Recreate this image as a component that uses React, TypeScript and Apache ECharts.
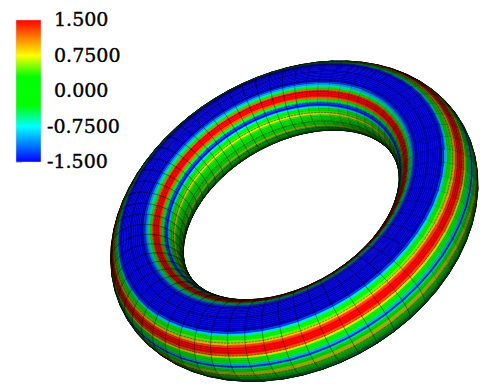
import React, { useEffect, useRef } from "react";
import * as echarts from "echarts";

const tickLabels: Record<string, string> = { "1.5": "1.500", "0.75": "0.7500", "0": "0.000", "-0.75": "-0.7500", "-1.5": "-1.500" };
const colorValues = [-1.5, -0.75, -0.3, 0.3, 0.75, 1.5];
const colorRGB = [[0, 0, 255], [0, 255, 255], [0, 255, 0], [0, 255, 0], [255, 255, 0], [255, 0, 0]];

// field value read around the tube, one per 3 degrees starting at -90 degrees
const fieldStart = -90;
const fieldValues = [
  0.05, 0.05, 0.05, 0.05, 0.05, 0.05, 0.05, 0.05, 0.05, 0.05, 0.05, 0.05, 0.05, 0.0, 0.0, 0.0, 0.0, 0.0, 0.0, 0.0,
  -0.2, -0.35, -0.5, -0.55, -0.55, -0.4, -0.2, 0.0, 0.1, 0.3,
  0.6, 0.85, 0.6, 0.3, -0.1, -0.6, -1.3, -0.9, -0.4,
  -0.1, 0.3, 0.8, 1.2, 1.5, 1.5, 1.5, 1.3, 0.9, 0.5, 0.1,
  -0.3, -0.8, -1.3, -1.5, -1.5, -1.5, -1.5, -1.5, -1.5, -1.5, -1.5, -1.5, -1.5, -1.5, -1.5, -1.5, -1.5,
  -1.3, -0.95, -0.6, 0.3, 1.2, 1.5, 1.5, 1.5, 1.2, 0.3,
  -0.5, -1.3, -1.45, -0.8, -0.2, 0.15, 0.5, 0.75, 0.4, 0.15,
  0.0, -0.1, -0.2, -0.1, 0.1, 0.4, 0.7, 0.4, 0.1, 0.0,
  0.0, 0.0, 0.0, 0.0, 0.0, 0.0, 0.0, 0.0, 0.0, 0.0, 0.0, 0.0, 0.0, 0.0, 0.0, 0.0, 0.0, 0.0, 0.0, 0.0, 0.0, 0.0, 0.0,
];

const tube = { R: 155, r: 37, tilt: 46, roll: 30, cx: 287, cy: 208, dist: 1050, aroundCells: 64, ringEvery: 6, ringOffset: 0, bias: 5 };
const rad = Math.PI / 180;
const cellCount = fieldValues.length;
const stepTube = 360 / cellCount;

function point3(i: number, j: number) {
  const th = (i / tube.aroundCells) * 360 * rad + 0.05;
  const ph = (fieldStart + j * stepTube) * rad;
  const rr = tube.R + tube.r * Math.cos(ph);
  return [rr * Math.cos(th), rr * Math.sin(th), tube.r * Math.sin(ph)];
}
function toView(p: number[]) {
  const t = tube.tilt * rad;
  return { u: p[0], v: p[1] * Math.cos(t) + p[2] * Math.sin(t), w: -p[1] * Math.sin(t) + p[2] * Math.cos(t) };
}
function project(i: number, j: number) {
  const { u, v, w } = toView(point3(i, j));
  const f = tube.dist / (tube.dist - w);
  const a = tube.roll * rad;
  return [tube.cx + f * (u * Math.cos(a) - v * Math.sin(a)), tube.cy - f * (u * Math.sin(a) + v * Math.cos(a))];
}
function facing(i: number, j: number) {
  const th = ((i + 0.5) / tube.aroundCells) * 360 * rad + 0.05;
  const ph = (fieldStart + (j + 0.5) * stepTube) * rad;
  const n = [Math.cos(ph) * Math.cos(th), Math.cos(ph) * Math.sin(th), Math.sin(ph)];
  const p = point3(i + 0.5, j + 0.5);
  const t = tube.tilt * rad;
  const cam = [0, -tube.dist * Math.sin(t), tube.dist * Math.cos(t)];
  const d = [cam[0] - p[0], cam[1] - p[1], cam[2] - p[2]];
  const len = Math.hypot(d[0], d[1], d[2]);
  return (n[0] * d[0] + n[1] * d[1] + n[2] * d[2]) / len;
}
function colorOf(v: number) {
  let k = 0;
  while (k < colorValues.length - 2 && v > colorValues[k + 1]) k++;
  const s = Math.max(0, Math.min(1, (v - colorValues[k]) / (colorValues[k + 1] - colorValues[k])));
  return colorRGB[k].map((c, n) => c + (colorRGB[k + 1][n] - c) * s);
}
function shaded(v: number, ndv: number) {
  const l = Math.pow(Math.max(0, ndv), 0.9);
  const c = colorOf(v).map((x) => Math.round(x * l));
  if (v <= -1.45) c[2] = Math.round(200 * Math.min(1, Math.max(0, ndv) / 0.55));
  return `rgb(${c[0]},${c[1]},${c[2]})`;
}

// kind 0 = surface cell, 1 = line along the ring, 2 = line around the tube
const rows: { d: number; row: number[] }[] = [];
for (let i = 0; i < tube.aroundCells; i++) {
  for (let j = 0; j < cellCount; j++) {
    const ndv = facing(i, j);
    if (ndv < -0.02) continue;
    const depth = toView(point3(i + 0.5, j + 0.5)).w;
    rows.push({ d: depth, row: [0, i, j, fieldValues[j], ndv] });
    if ((j + tube.ringOffset) % tube.ringEvery === 0) rows.push({ d: depth + tube.bias, row: [1, i, j, 0, ndv] });
    rows.push({ d: depth + tube.bias, row: [2, i, j, 0, ndv] });
  }
}
rows.sort((a, b) => a.d - b.d);
const surfaceRows = rows.map((r) => r.row);

function renderSurface(_: any, api: any) {
  const kind = api.value(0), i = api.value(1), j = api.value(2);
  const at = (a: number, b: number) => api.coord(project(a, b));
  if (kind === 0) {
    const fill = shaded(api.value(3), api.value(4));
    return {
      type: "polygon",
      shape: { points: [at(i, j), at(i + 1, j), at(i + 1, j + 1), at(i, j + 1)] },
      style: { fill, stroke: fill, lineWidth: 0.6 },
      silent: true,
    };
  }
  const a = at(i, j);
  const b = kind === 1 ? at(i + 1, j) : at(i, j + 1);
  return {
    type: "line",
    shape: { x1: a[0], y1: a[1], x2: b[0], y2: b[1] },
    style: { stroke: "rgba(0,0,0,0.75)", lineWidth: 0.55, lineDash: [2.5, 0.8], fill: "none" },
    silent: true,
  };
}

const barStops = colorValues.map((v, k) => ({
  offset: (1.5 - v) / 3,
  color: `rgb(${colorRGB[k].join(",")})`,
})).reverse();

function renderBar(_: any, api: any) {
  const a = api.coord([0, 1.5]);
  const b = api.coord([1, -1.5]);
  return {
    type: "rect",
    shape: { x: a[0], y: a[1], width: b[0] - a[0], height: b[1] - a[1] },
    style: { fill: new echarts.graphic.LinearGradient(0, 0, 0, 1, barStops), stroke: "#cccccc", lineWidth: 0.5 },
  };
}

const labelStyle = { fontFamily: "DejaVu Serif", fontSize: 19, color: "#000000", textBorderColor: "#000000", textBorderWidth: 0.4 };

export default function App() {
  const ref = useRef<HTMLDivElement>(null);
  useEffect(() => {
    const chart = echarts.init(ref.current!, undefined, { renderer: "svg" });
    chart.setOption({
      animation: false,
      backgroundColor: "#ffffff",
      grid: [
        { left: 0, top: 0, right: 0, bottom: 0 },
        { left: 16, top: 20, width: 25, height: 142 },
      ],
      xAxis: [
        { type: "value", min: 0, max: 484, show: false, gridIndex: 0 },
        { type: "value", min: 0, max: 1, show: false, gridIndex: 1 },
      ],
      yAxis: [
        { type: "value", min: 0, max: 386, inverse: true, show: false, gridIndex: 0 },
        {
          type: "value", min: -1.5, max: 1.5, interval: 0.75, gridIndex: 1, position: "right",
          axisLine: { show: false },
          splitLine: { show: false },
          axisTick: { show: true, length: 6, lineStyle: { color: "#b8b8b8", width: 1 } },
          axisLabel: {
            show: true, margin: 6, align: "left", showMinLabel: true, showMaxLabel: true,
            formatter: (v: number) => {
              const s = tickLabels[String(v)] ?? String(v);
              return v < 0 ? `{n|${s}}` : `{p|${s}}`;
            },
            rich: {
              n: { ...labelStyle, padding: [0, 0, 2, 0] },
              p: { ...labelStyle, padding: [0, 0, 2, 7] },
            },
          },
        },
      ],
      series: [
        { type: "custom", xAxisIndex: 0, yAxisIndex: 0, data: surfaceRows, renderItem: renderSurface, progressive: 0, clip: false, silent: true, animation: false },
        { type: "custom", xAxisIndex: 1, yAxisIndex: 1, data: [[0, 0]], renderItem: renderBar, clip: false, silent: true, animation: false },
      ],
    });
    return () => chart.dispose();
  }, []);
  return <div ref={ref} style={{ position: "absolute", left: 0, top: 0, width: 484, height: 386 }} />;
}
